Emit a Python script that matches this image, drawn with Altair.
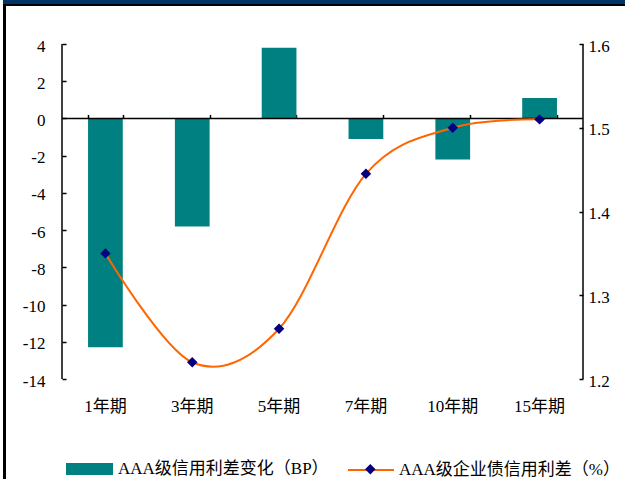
import altair as alt
import pandas as pd

# ---- data ----
cats = ["1年期", "3年期", "5年期", "7年期", "10年期", "15年期"]
bp_change = [-12.3, -5.8, 3.8, -1.1, -2.2, 1.1]          # left axis (BP)
spread = [1.35, 1.22, 1.26, 1.445, 1.50, 1.51]           # right axis (%)
left_ticks = [-14, -12, -10, -8, -6, -4, -2, 0, 2, 4]
right_ticks = [1.2, 1.3, 1.4, 1.5, 1.6]
bar_label = "AAA级信用利差变化（BP）"
line_label = "AAA级企业债信用利差（%）"
marker_label = "marker"

W, H = 521, 335
FONT = "Liberation Serif, Noto Sans CJK SC"
FS = 17

df = pd.DataFrame({"cat": cats, "bp": bp_change, "spread": spread})
df["bs"] = bar_label
df["ls"] = line_label
df["ms"] = marker_label
one = pd.DataFrame({"k": [0]})

xscale = alt.Scale(domain=cats, paddingInner=0.6, paddingOuter=0.3)
yl = alt.Scale(domain=[left_ticks[0], left_ticks[-1]], nice=False)
yr = alt.Scale(domain=[right_ticks[0], right_ticks[-1]], nice=False, zero=False)

# ---- decorative page frame ----
navy_band = alt.Chart(one).mark_rect(color="#003366").encode(
    x=alt.value(-59), x2=alt.value(563), y=alt.value(-44), y2=alt.value(-40))
black_band = alt.Chart(one).mark_rect(color="black").encode(
    x=alt.value(-59), x2=alt.value(563), y=alt.value(-40), y2=alt.value(-38))
black_left = alt.Chart(one).mark_rect(color="black").encode(
    x=alt.value(-59), x2=alt.value(-56), y=alt.value(-40), y2=alt.value(435))

bars = alt.Chart(df).mark_bar().encode(
    x=alt.X("cat:N", sort=cats, scale=xscale,
            axis=alt.Axis(orient="bottom", title=None, domain=False, ticks=False,
                          labelAngle=0, labelFont=FONT, labelFontSize=FS,
                          labelColor="black", labelPadding=19, grid=False)),
    y=alt.Y("bp:Q", scale=yl,
            axis=alt.Axis(orient="left", values=left_ticks, title=None, domain=False,
                          offset=-4, tickSize=4, tickColor="black", tickWidth=1.5,
                          labelExpr="toString(datum.value)", labelOffset=2,
                          labelFont=FONT, labelFontSize=FS, labelColor="black",
                          labelPadding=17, grid=False)),
    y2=alt.Y2(datum=0),
    fill=alt.Fill("bs:N", scale=alt.Scale(range=["#008080"]),
                  legend=alt.Legend(orient="none", legendX=4, legendY=401.5, title=None,
                                    symbolType="M-1,-0.255H1V0.255H-1Z", symbolSize=2209,
                                    symbolStrokeWidth=0, labelFont=FONT, labelFontSize=FS,
                                    labelColor="black", labelOffset=5, padding=0,
                                    labelLimit=400)),
)

zero_line = alt.Chart(one).mark_rule(color="black", strokeWidth=1.5).encode(
    y=alt.Y(datum=0, scale=yl, axis=None))

left_domain = alt.Chart(one).mark_rule(color="black", strokeWidth=1.5).encode(
    x=alt.value(0), y=alt.Y(datum=left_ticks[-1], scale=yl, axis=None),
    y2=alt.Y2(datum=left_ticks[0]))
right_domain = alt.Chart(one).mark_rule(color="black", strokeWidth=1.5).encode(
    x=alt.value(W), y=alt.Y(datum=left_ticks[-1], scale=yl, axis=None),
    y2=alt.Y2(datum=left_ticks[0]))

line = alt.Chart(df).mark_line(interpolate="cardinal", strokeWidth=2).encode(
    x=alt.X("cat:N", sort=cats, scale=xscale,
            axis=alt.Axis(orient="top", offset=-H * 4 / 18, domain=False, labels=False,
                          ticks=True, tickBand="extent", tickSize=4, tickColor="black",
                          tickWidth=1.5, title=None, grid=False)),
    y=alt.Y("spread:Q", scale=yr,
            axis=alt.Axis(orient="right", values=right_ticks, format=".1f", title=None,
                          domain=False, offset=-4, tickSize=4, tickColor="black",
                          tickWidth=1.5, labelFont=FONT, labelFontSize=FS, labelOffset=2,
                          labelColor="black", labelPadding=5, grid=False)),
    stroke=alt.Stroke("ls:N", scale=alt.Scale(range=["#FF6600"]),
                      legend=alt.Legend(orient="none", legendX=285, legendY=402, title=None,
                                        symbolType="M-1,0H1", symbolSize=2116,
                                        symbolStrokeWidth=2, labelFont=FONT,
                                        labelFontSize=FS, labelColor="black",
                                        labelOffset=4, padding=0, labelLimit=400)),
)

pts = alt.Chart(df).mark_point(shape="diamond", filled=True, size=110, opacity=1).encode(
    x=alt.X("cat:N", sort=cats, scale=xscale, axis=None),
    y=alt.Y("spread:Q", scale=yr, axis=None),
    color=alt.Color("ms:N", scale=alt.Scale(range=["#000080"]),
                    legend=alt.Legend(orient="none", legendX=302.8, legendY=419.8,
                                      title=None, symbolType="diamond", symbolSize=110,
                                      symbolStrokeWidth=0, labelExpr="''", padding=0)),
)

chart = alt.layer(navy_band, black_band, black_left, bars, zero_line,
                  left_domain, right_domain, line, pts).resolve_scale(
    y="independent").resolve_axis(x="independent", y="independent").properties(
    width=W, height=H,
    padding={"left": 62, "top": 44, "right": 42, "bottom": 100},
    autosize=alt.AutoSizeParams(type="none"),
    background="white",
).configure_view(stroke=None)

chart.save("out.html", embed_options={"renderer": "svg", "actions": False})
